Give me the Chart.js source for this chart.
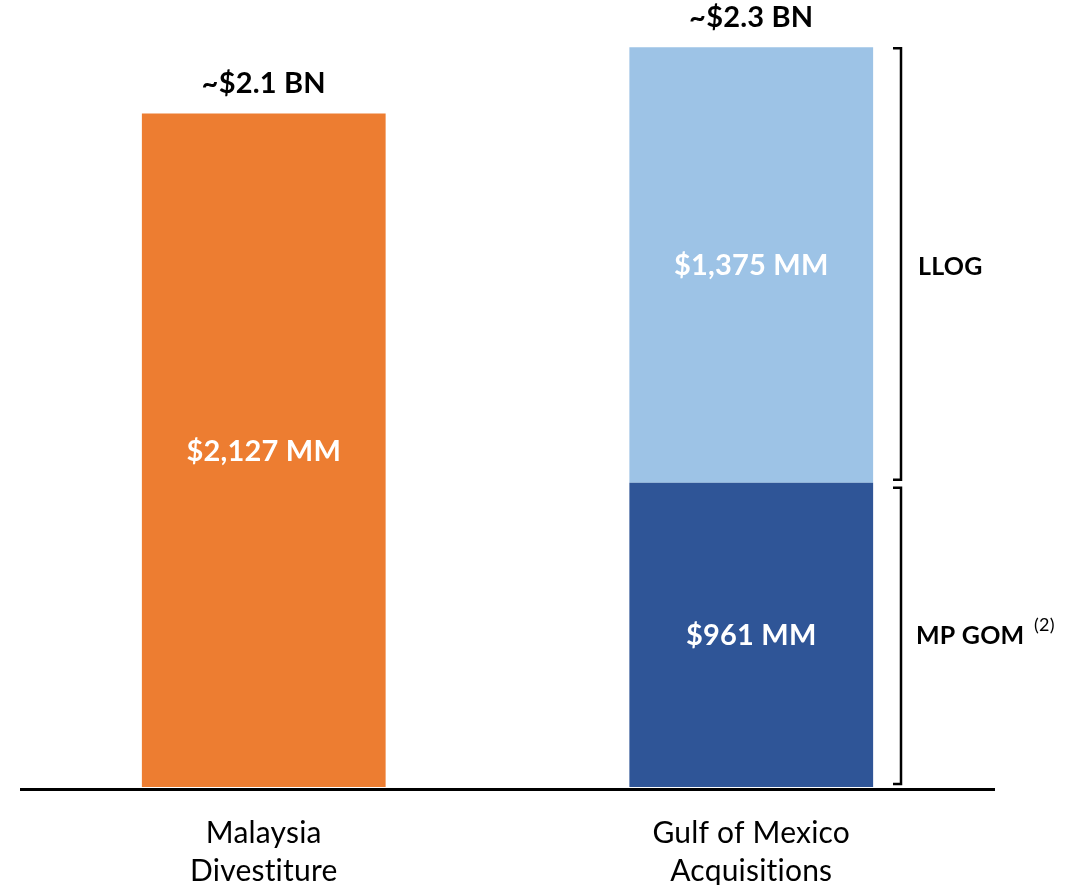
<!DOCTYPE html>
<html>
<head>
<meta charset="utf-8">
<script src="https://cdn.jsdelivr.net/npm/chart.js@4.4.1/dist/chart.umd.min.js"></script>
<style>
  html, body { margin: 0; padding: 0; background: #fff; }
  #wrap { width: 1076px; height: 885px; }
</style>
</head>
<body>
<div id="wrap"><canvas id="chart" width="1076" height="885"></canvas></div>
<script>
const categories = [['Malaysia', 'Divestiture'], ['Gulf of Mexico', 'Acquisitions']];
const malaysiaValues = [2127, null];
const mpGomValues = [null, 961];
const llogValues = [null, 1375];
const totalLabels = ['~$2.1 BN', '~$2.3 BN'];
const FONT = 'Lato';

function mm(v) {
    return '$' + v.toLocaleString('en-US') + ' MM';
}

// labels, totals, axis line and brackets
const annotate = {
    id: 'annotate',
    beforeDraw(chart) {
        // no "ti" ligatures, Calibri doesn't have them
        chart.ctx.textRendering = 'optimizeSpeed';
        chart.ctx.letterSpacing = '0.2px';
    },
    afterDatasetsDraw(chart) {
        const ctx = chart.ctx;
        const area = chart.chartArea;
        const y = chart.scales.y;

        ctx.save();
        ctx.textAlign = 'center';
        ctx.textBaseline = 'middle';
        ctx.fillStyle = '#ffffff';
        ctx.font = 'bold 29px ' + FONT;
        chart.data.datasets.forEach((ds, di) => {
            const meta = chart.getDatasetMeta(di);
            meta.data.forEach((bar, i) => {
                const v = ds.data[i];
                if (v == null) return;
                ctx.fillText(mm(v), bar.x, (bar.y + bar.base) / 2 + 1);
            });
        });

        // totals above stacks
        ctx.fillStyle = '#000000';
        const totals = categories.map((c, i) =>
            (malaysiaValues[i] || 0) + (mpGomValues[i] || 0) + (llogValues[i] || 0));
        totals.forEach((t, i) => {
            const x = chart.scales.x.getPixelForValue(i);
            ctx.fillText(totalLabels[i], x, y.getPixelForValue(t) - 30);
        });

        // axis line
        ctx.strokeStyle = '#000000';
        ctx.lineWidth = 3;
        ctx.beginPath();
        ctx.moveTo(area.left, area.bottom + 2.5);
        ctx.lineTo(area.right, area.bottom + 2.5);
        ctx.stroke();

        // right brackets
        const bx = 901;
        function bracket(top, bottom) {
            ctx.lineWidth = 2.5;
            ctx.beginPath();
            ctx.moveTo(bx - 8, top);
            ctx.lineTo(bx, top);
            ctx.lineTo(bx, bottom);
            ctx.lineTo(bx - 8, bottom);
            ctx.stroke();
        }
        const gTop = y.getPixelForValue(totals[1]) + 1;
        const gMid = y.getPixelForValue(mpGomValues[1]);
        const gBot = y.getPixelForValue(0) - 3;
        bracket(gTop, gMid - 3);
        bracket(gMid + 5, gBot);

        ctx.textAlign = 'left';
        ctx.font = 'bold 25px ' + FONT;
        ctx.fillText('LLOG', 918, (gTop + gMid) / 2 + 1);
        ctx.fillText('MP GOM', 916, (gMid + gBot) / 2 + 3);
        ctx.font = '18px ' + FONT;
        ctx.fillText('(2)', 1034, (gMid + gBot) / 2 - 8);
        ctx.restore();
    }
};

new Chart(document.getElementById('chart'), {
    type: 'bar',
    data: {
        labels: categories,
        datasets: [
            { label: 'Malaysia', data: malaysiaValues, backgroundColor: '#ED7D31' },
            { label: 'MP GOM', data: mpGomValues, backgroundColor: '#2F5597' },
            { label: 'LLOG', data: llogValues, backgroundColor: '#9DC3E6' }
        ]
    },
    options: {
        responsive: false,
        animation: false,
        layout: { padding: { left: 20, right: 81, top: 27, bottom: 0 } },
        datasets: { bar: { barPercentage: 0.5, categoryPercentage: 1.0 } },
        plugins: { legend: { display: false }, tooltip: { enabled: false } },
        scales: {
            x: {
                stacked: true,
                grid: { display: false, drawTicks: false },
                border: { display: false },
                ticks: {
                    color: '#000000',
                    padding: 27,
                    font: { family: FONT, size: 30, lineHeight: 1.27 }
                },
                afterFit(axis) { axis.height = 98; }
            },
            y: {
                stacked: true,
                display: false,
                min: 0,
                max: 2400
            }
        }
    },
    plugins: [annotate]
});
</script>
</body>
</html>
